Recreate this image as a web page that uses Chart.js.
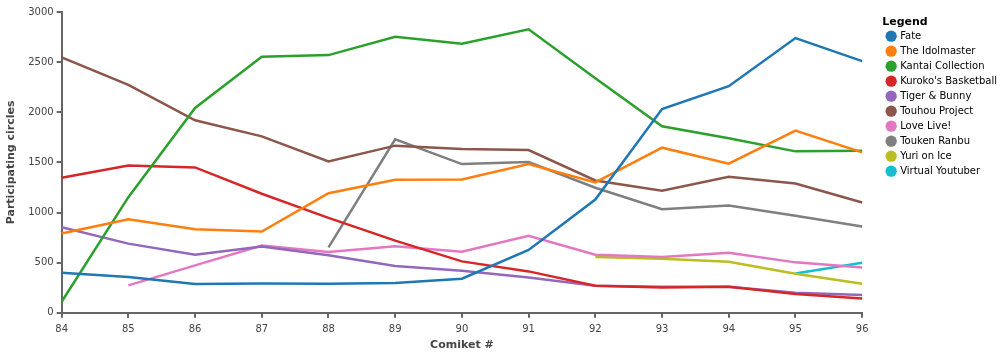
<!DOCTYPE html>
<html><head><meta charset="utf-8">
<script src="https://cdn.jsdelivr.net/npm/chart.js@4"></script>
<style>html,body{margin:0;padding:0;background:#fff;}#wrap{width:1003px;height:356px;}</style>
</head><body><div id="wrap"><canvas id="c" width="1003" height="356"></canvas></div>
<script>
const comikets = ['84','85','86','87','88','89','90','91','92','93','94','95','96'];
const fate        = [400, 357, 287, 293, 290, 297, 340, 627, 1130, 2033, 2260, 2740, 2510];
const idolmaster  = [790, 933, 833, 810, 1193, 1327, 1330, 1483, 1300, 1647, 1487, 1817, 1600];
const kantai      = [110, 1153, 2043, 2553, 2570, 2753, 2683, 2827, 2340, 1860, 1740, 1610, 1617];
const kuroko      = [1347, 1470, 1450, 1187, 947, 720, 513, 413, 270, 253, 260, 187, 143];
const tiger       = [853, 690, 580, 660, 573, 467, 420, 353, 270, 260, 260, 200, 177];
const touhou      = [2547, 2273, 1920, 1760, 1510, 1667, 1633, 1623, 1320, 1217, 1357, 1290, 1100];
const loveLive    = [null, 273, 473, 670, 607, 663, 610, 767, 580, 557, 600, 503, 453];
const touken      = [null, null, null, null, 653, 1730, 1483, 1503, 1247, 1033, 1070, 967, 860];
const yuri        = [null, null, null, null, null, null, null, null, 557, 540, 510, 390, 290];
const vtuber      = [null, null, null, null, null, null, null, null, null, null, null, 393, 500];
const yTicks = [0, 500, 1000, 1500, 2000, 2500, 3000];

const series = [
  ['Fate', fate, '#1f77b4'],
  ['The Idolmaster', idolmaster, '#ff7f0e'],
  ['Kantai Collection', kantai, '#2ca02c'],
  ["Kuroko's Basketball", kuroko, '#d62728'],
  ['Tiger & Bunny', tiger, '#9467bd'],
  ['Touhou Project', touhou, '#8c564b'],
  ['Love Live!', loveLive, '#e377c2'],
  ['Touken Ranbu', touken, '#7f7f7f'],
  ['Yuri on Ice', yuri, '#bcbd22'],
  ['Virtual Youtuber', vtuber, '#17becf']
];
const font = "'DejaVu Sans', sans-serif";

// empty layout box that leaves a gap between the plot and the legend
const spacer = {
  id: 'spacer',
  beforeInit(chart) {
    const box = {
      position: 'right', weight: 1, fullSize: false, options: {},
      width: 0, height: 0,
      isHorizontal() { return false; },
      update(maxW, maxH) { this.width = 20; this.height = maxH; },
      draw() {}
    };
    Chart.layouts.addBox(chart, box);
  }
};

new Chart(document.getElementById('c'), {
  type: 'line',
  data: {
    labels: comikets,
    datasets: series.map(([n, d, c]) => ({
      label: n, data: d, borderColor: c, backgroundColor: c,
      borderWidth: 2.5, pointRadius: 0, pointHoverRadius: 0, tension: 0, pointStyle: 'circle'
    }))
  },
  plugins: [spacer],
  options: {
    responsive: false, animation: false,
    layout: {padding: {top: 12, right: -4, left: 5, bottom: 4}},
    plugins: {
      tooltip: {enabled: false},
      legend: {
        position: 'right', align: 'start',
        title: {display: true, text: 'Legend', position: 'start', color: '#000', font: {family: font, size: 11, weight: 'bold'}, padding: {top: 5, bottom: -4}},
        labels: {
          usePointStyle: true, boxWidth: 8, boxHeight: 8, padding: 5, color: '#000',
          font: {family: font, size: 10},
          generateLabels: (chart) => chart.data.datasets.map((ds, i) => ({
            text: ds.label, fillStyle: ds.borderColor, strokeStyle: ds.borderColor,
            lineWidth: 0, pointStyle: 'circle', datasetIndex: i, hidden: false, fontColor: '#000'
          }))
        }
      }
    },
    scales: {
      x: {
        type: 'category', offset: false,
        grid: {display: true, drawOnChartArea: false, drawTicks: true, tickLength: 5, color: '#666', lineWidth: 2},
        border: {display: true, color: '#666', width: 2},
        ticks: {color: '#444', font: {family: font, size: 10}, maxRotation: 0, padding: 6},
        title: {display: true, text: 'Comiket #', color: '#444', font: {family: font, size: 11, weight: 'bold'}, padding: {top: -3, bottom: 0}}
      },
      y: {
        min: 0, max: 3000,
        afterBuildTicks: (s) => { s.ticks = yTicks.map(v => ({value: v})); },
        grid: {display: true, drawOnChartArea: false, drawTicks: true, tickLength: 5, color: '#666', lineWidth: 2},
        border: {display: true, color: '#666', width: 2},
        ticks: {color: '#444', font: {family: font, size: 10}, padding: 3, callback: (v) => String(v)},
        title: {display: true, text: 'Participating circles', color: '#444', font: {family: font, size: 11, weight: 'bold'}, padding: {top: 0, bottom: 7}}
      }
    }
  }
});
</script></body></html>
